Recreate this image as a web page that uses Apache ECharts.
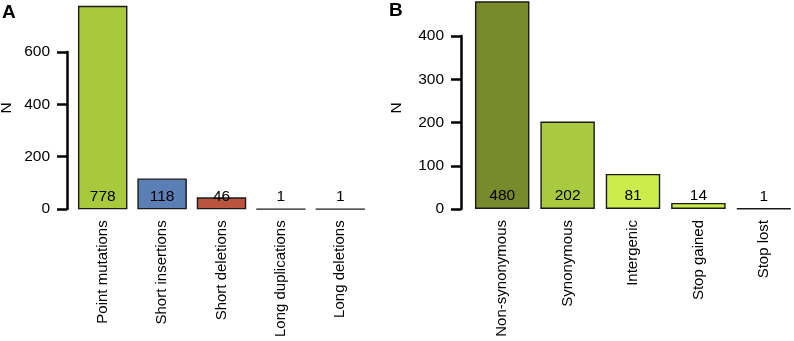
<!DOCTYPE html>
<html lang="en">
<head>
    <meta charset="UTF-8">
    <title>Mutations</title>
    <script src="https://cdn.jsdelivr.net/npm/echarts@6/dist/echarts.min.js"></script>
    <style>
        html, body { margin: 0; padding: 0; background: #fff; }
        #main { width: 794px; height: 341px; }
    </style>
</head>
<body>
<div id="main"></div>
<script>
    // panel A
    var catsA = ['Point mutations', 'Short insertions', 'Short deletions', 'Long duplications', 'Long deletions'];
    var valsA = [778, 118, 46, 1, 1];
    var colorsA = ['#A9C93D', '#5B7FB4', '#B9553F', '#A9C93D', '#A9C93D'];
    var ticksA = [0, 200, 400, 600];
    // panel B
    var catsB = ['Non-synonymous', 'Synonymous', 'Intergenic', 'Stop gained', 'Stop lost'];
    var valsB = [480, 202, 81, 14, 1];
    var colorsB = ['#788A2B', '#A9C93F', '#CBEC4C', '#CBEC4C', '#CBEC4C'];
    var ticksB = [0, 100, 200, 300, 400];

    var font = '"Liberation Sans", Arial, sans-serif';
    var fs = 15.5;
    var myChart = echarts.init(document.getElementById('main'));

    function barData(vals, colors) {
        return vals.map(function (v, i) {
            return { value: v, itemStyle: { color: colors[i] } };
        });
    }

    // visible axis only spans the tick range, like R's axis()
    function tickAxis(gridIndex, ticks) {
        return {
            gridIndex: gridIndex,
            type: 'value',
            min: ticks[0],
            max: ticks[ticks.length - 1],
            interval: ticks[1] - ticks[0],
            axisLine: { show: true, lineStyle: { color: '#000', width: 2.5 } },
            axisTick: { show: true, length: 10, lineStyle: { color: '#000', width: 2.5 } },
            axisLabel: { margin: 17, color: '#000', fontSize: fs, fontFamily: font },
            splitLine: { show: false }
        };
    }

    function hiddenY(gridIndex, max) {
        return { gridIndex: gridIndex, type: 'value', min: 0, max: max, show: false, splitLine: { show: false } };
    }

    function catAxis(gridIndex, cats) {
        return {
            gridIndex: gridIndex,
            type: 'category',
            data: cats,
            axisLine: { show: false },
            axisTick: { show: false },
            axisLabel: { rotate: 90, margin: 11, color: '#000', fontSize: 15, fontFamily: font, interval: 0 }
        };
    }

    function emptyX(gridIndex) {
        return { gridIndex: gridIndex, type: 'category', data: [], show: false };
    }

    function barSeries(xi, vals, colors) {
        return {
            type: 'bar',
            xAxisIndex: xi,
            yAxisIndex: xi,
            barCategoryGap: '16.7%',
            data: barData(vals, colors),
            itemStyle: { borderColor: '#1a1a1a', borderWidth: 1.4 },
            label: {
                show: true,
                position: 'insideBottom',
                distance: 5,
                color: '#000',
                fontSize: fs,
                fontFamily: font
            },
            silent: true
        };
    }

    function grid(left, width, top, height) {
        return { left: left, width: width, top: top, height: height, outerBoundsMode: 'none', containLabel: false };
    }

    var option = {
        animation: false,
        backgroundColor: '#fff',
        grid: [
            grid(73, 297, 0, 209.3),
            grid(67, 10, 52, 157),
            grid(469.5, 327, -7.3, 216.3),
            grid(461, 10, 36, 173)
        ],
        xAxis: [catAxis(0, catsA), emptyX(1), catAxis(2, catsB), emptyX(3)],
        yAxis: [hiddenY(0, 800), tickAxis(1, ticksA), hiddenY(2, 500), tickAxis(3, ticksB)],
        series: [barSeries(0, valsA, colorsA), barSeries(2, valsB, colorsB)],
        graphic: [
            { type: 'text', left: 2, top: 3, style: { text: 'A', font: 'bold 19px ' + font, fill: '#000' } },
            { type: 'text', left: 389, top: 1, style: { text: 'B', font: 'bold 19px ' + font, fill: '#000' } },
            { type: 'text', x: 7, y: 108, rotation: Math.PI / 2,
              style: { text: 'N', font: fs + 'px ' + font, fill: '#000', align: 'center', verticalAlign: 'middle' } },
            { type: 'text', x: 397, y: 108, rotation: Math.PI / 2,
              style: { text: 'N', font: fs + 'px ' + font, fill: '#000', align: 'center', verticalAlign: 'middle' } }
        ]
    };

    myChart.setOption(option);
</script>
</body>
</html>
